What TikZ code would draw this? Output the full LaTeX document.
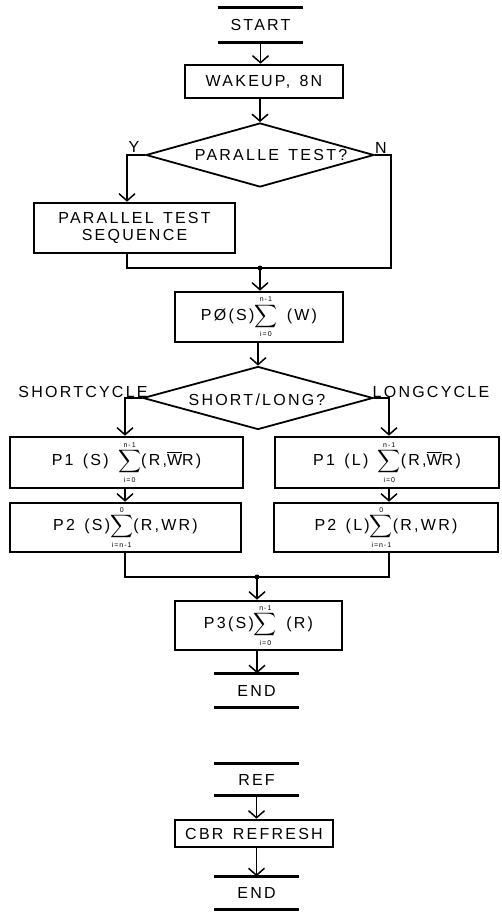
\documentclass[tikz,border=0pt]{standalone}
\usepackage{amsmath}
\usepackage{unicode-math}
\setmainfont{Liberation Sans}[LetterSpace=14, WordSpace=1.4]
\usetikzlibrary{arrows.meta,shapes.geometric}
\newcommand\sumlim[2]{$\displaystyle\sum\limits_{\text{\fontsize{7}{7}\selectfont#1}}^{\text{\fontsize{7}{7}\selectfont#2}}$}
\newcommand\wbar{$\overline{\text{W}}$}

\begin{document}
\begin{tikzpicture}[x=1pt, y=-1pt, line width=1.5pt,
	every node/.style={font=\fontsize{16}{17}\selectfont, inner sep=0pt},
	box/.style={draw, line width=2.6pt, align=center},
	term/.style={minimum width=83pt, minimum height=33pt},
	decision/.style={draw, diamond, line width=1.8pt, aspect=3.5, minimum width=228pt, minimum height=64pt},
	flow/.style={-{Straight Barb[length=7pt,width=16pt]}},
	bar/.style={line width=2.8pt}]
	\useasboundingbox (0,0) rectangle (501,912);

	\node[term] (start) at (260.5,25) {START};
	\draw[bar] (start.north west) -- (start.north east) (start.south west) -- (start.south east);
	\node[box, minimum width=158pt, minimum height=33pt] (wake) at (264,81.5) {WAKEUP, 8N};
	\node[decision] (par) at (260,155) {};
	\node (partxt) at (271,155) {PARALLE TEST?};
	\node (yes) at (134,147) {Y};
	\node (no) at (381,148) {N};
	\node[box, minimum width=201pt, minimum height=50pt] (pts) at (134.5,228) {PARALLEL TEST\\SEQUENCE};
	\coordinate (ybend) at (127,155);
	\coordinate (nbend) at (391,155);
	\coordinate (join1) at (260,268);
	\node[box, minimum width=168pt, minimum height=50pt] (p0) at (259,317) {PØ(S)\sumlim{i=0}{n-1} (W)};

	\node[decision, minimum width=230pt, minimum height=63pt] (len) at (258,398) {};
	\node (lentxt) at (257,400) {SHORT/LONG?};
	\node (short) at (83,392) {SHORTCYCLE};
	\node (long) at (431,392) {LONGCYCLE};
	\coordinate (sbend) at (125,398);
	\coordinate (lbend) at (389,398);
	\node[box, minimum width=233pt, minimum height=51pt] (p1s) at (126.5,462.5) {P1 (S) \sumlim{i=0}{n-1}(R,\wbar R)};
	\node[box, minimum width=224pt, minimum height=51pt] (p1l) at (387,462.5) {P1 (L) \sumlim{i=0}{n-1}(R,\wbar R)};
	\node[box, minimum width=231pt, minimum height=49pt] (p2s) at (125.5,527.5) {P2 (S)\sumlim{i=n-1}{0}(R,WR)};
	\node[box, minimum width=224pt, minimum height=49pt] (p2l) at (386,527.5) {P2 (L)\sumlim{i=n-1}{0}(R,WR)};
	\coordinate (join2) at (257,577);
	\node[box, minimum width=167pt, minimum height=49pt] (p3) at (258.5,625.5) {P3(S)\sumlim{i=0}{n-1} (R)};
	\node[term] (end1) at (256.5,690.5) {END};
	\draw[bar] (end1.north west) -- (end1.north east) (end1.south west) -- (end1.south east);

	\node[term, minimum height=31pt] (ref) at (256.5,779.5) {REF};
	\draw[bar] (ref.north west) -- (ref.north east) (ref.south west) -- (ref.south east);
	\node[box, minimum width=158pt, minimum height=27pt] (cbr) at (254,833.5) {CBR REFRESH};
	\node[term, minimum height=32pt] (end2) at (256.5,893) {END};
	\draw[bar] (end2.north west) -- (end2.north east) (end2.south west) -- (end2.south east);

	\draw[flow] (start.south) -- (start.south |- wake.north);
	\draw[flow] (par.north |- wake.south) -- (par.north);
	\draw[flow] (par.west) -- (ybend) -- (ybend |- pts.north);
	\draw (par.east) -- (nbend) |- (join1);
	\draw (ybend |- pts.south) |- (join1);
	\fill (join1) circle (2.5pt);
	\draw[flow] (join1) -- (join1 |- p0.north);
	\draw[flow] (len.north |- p0.south) -- (len.north);
	\draw[flow] (len.west) -- (sbend) -- (sbend |- p1s.north);
	\draw[flow] (len.east) -- (lbend) -- (lbend |- p1l.north);
	\draw[flow] (sbend |- p1s.south) -- (sbend |- p2s.north);
	\draw[flow] (lbend |- p1l.south) -- (lbend |- p2l.north);
	\draw (sbend |- p2s.south) |- (join2);
	\draw (lbend |- p2l.south) |- (join2);
	\fill (join2) circle (2.5pt);
	\draw[flow] (join2) -- (join2 |- p3.north);
	\draw[flow] (join2 |- p3.south) -- (join2 |- end1.north);
	\draw[flow] (ref.south) -- (ref.south |- cbr.north);
	\draw[flow] (ref.south |- cbr.south) -- (end2.north);
\end{tikzpicture}
\end{document}
